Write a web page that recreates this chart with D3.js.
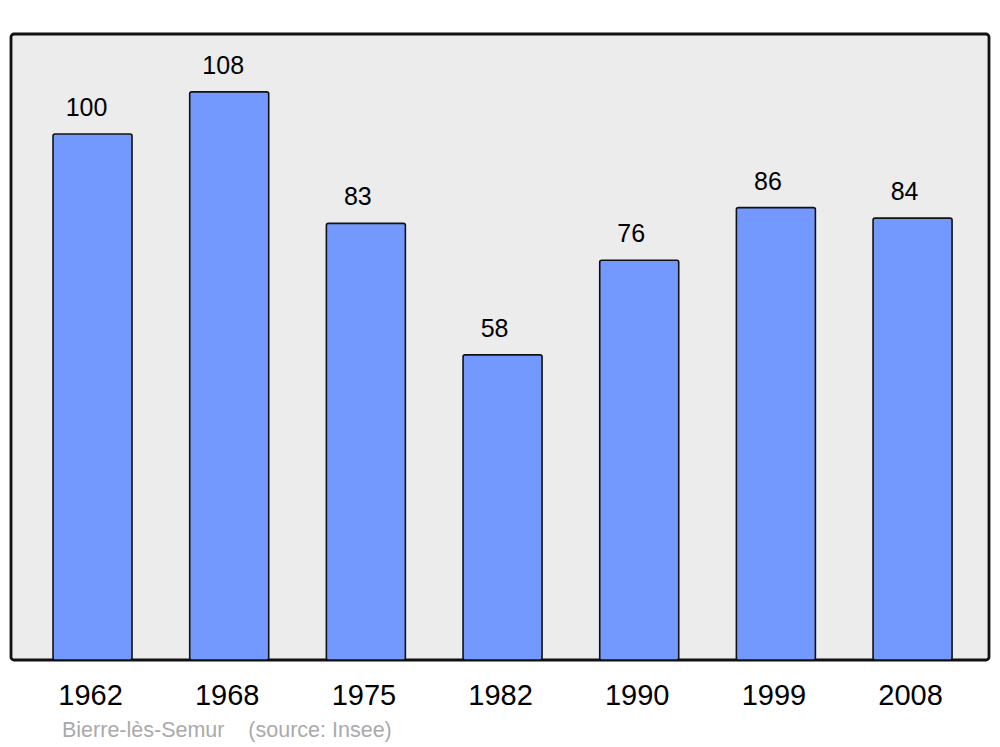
<!DOCTYPE html>
<html><head><meta charset="utf-8">
<script src="https://cdn.jsdelivr.net/npm/d3@7"></script>
<style>html,body{margin:0;padding:0;background:#fff;}</style>
</head><body>
<script>
const years = ["1962","1968","1975","1982","1990","1999","2008"];
const population = [100,108,83,58,76,86,84];
const caption = "Bierre-lès-Semur    (source: Insee)";

const W = 1000, H = 747;
const svg = d3.select("body").append("svg").attr("width", W).attr("height", H);

const panel = {x0: 11, x1: 989, y0: 34, y1: 660};
svg.append("rect").attr("x", panel.x0).attr("y", panel.y0)
  .attr("width", panel.x1 - panel.x0).attr("height", panel.y1 - panel.y0)
  .attr("rx", 3).attr("fill", "#ececec").attr("stroke", "#111").attr("stroke-width", 2.8);

const x = d3.scaleBand().domain(years).range([24.2, 980.9]).paddingInner(0.422).paddingOuter(0.211);
const y = d3.scaleLinear().domain([0, 119]).range([panel.y1, panel.y0]);

const g = svg.append("g");
g.selectAll("rect.bar").data(years).enter().append("rect").attr("class","bar")
  .attr("x", d => x(d)).attr("width", x.bandwidth())
  .attr("y", (d,i) => y(population[i])).attr("height", (d,i) => y(0) - y(population[i]))
  .attr("rx", 2).attr("fill", "#7399ff").attr("stroke", "#111").attr("stroke-width", 1.6);

g.selectAll("text.val").data(years).enter().append("text").attr("class","val")
  .attr("x", (d,i) => x(d) + x.bandwidth()/2 - (population[i] >= 100 ? 6 : 8)).attr("y", (d,i) => y(population[i]) - 18)
  .attr("text-anchor","middle").attr("font-family","Liberation Sans, Arial, sans-serif")
  .attr("font-size", 25).attr("fill","#000").text((d,i) => population[i]);

const axis = d3.axisBottom(x).tickSize(0).tickPadding(0);
const ax = svg.append("g").attr("transform", `translate(-2,${panel.y1})`).call(axis);
ax.select(".domain").remove();
ax.selectAll("text").attr("y", 45).attr("dy", 0)
  .attr("font-family","Liberation Sans, Arial, sans-serif").attr("font-size", 29).attr("fill","#000");

svg.append("text").attr("x", 62).attr("y", 737).attr("xml:space","preserve")
  .style("white-space","pre")
  .attr("font-family","Liberation Sans, Arial, sans-serif").attr("font-size", 21.5)
  .attr("fill","#aaaaaa").text(caption);
</script>
</body></html>
